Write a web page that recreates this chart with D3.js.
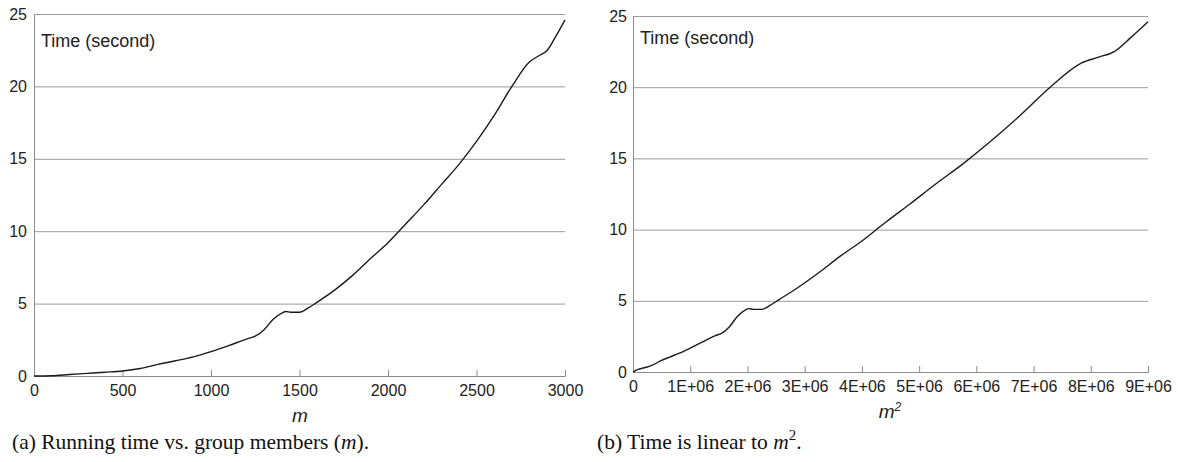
<!DOCTYPE html>
<html>
<head>
<meta charset="utf-8">
<script src="https://cdn.jsdelivr.net/npm/d3@7"></script>
<style>
  html, body { margin: 0; padding: 0; background: #fff; }
  svg { display: block; }
  .axis text { font: 16px "Liberation Sans", Arial, sans-serif; fill: #222; }
  .axis path, .axis line { stroke: #8c8c8c; }
  .grid line { stroke: #9a9a9a; }
  .grid path { display: none; }
  .title { font: 18px "Liberation Sans", Arial, sans-serif; fill: #222; }
  .xlabel { font: italic 19px "Liberation Sans", Arial, sans-serif; fill: #222; }
  .caption { font: 21.5px "Liberation Serif", "Times New Roman", serif; fill: #111; }
  .curve { fill: none; stroke: #1c1c1c; stroke-width: 1.4; }
</style>
</head>
<body>
<svg id="chart" width="1178" height="462"></svg>
<script>
const members = [0, 100, 200, 300, 400, 500, 600, 700, 800, 900, 1000, 1100, 1200, 1250,
  1300, 1350, 1400, 1425, 1450, 1500, 1550, 1600, 1700, 1800, 1900, 2000, 2100, 2200,
  2300, 2400, 2500, 2600, 2700, 2800, 2850, 2900, 2950, 3000]
const timeSec = [0, 0.02, 0.1, 0.18, 0.26, 0.35, 0.52, 0.8, 1.05, 1.32, 1.68, 2.1, 2.55, 2.75,
  3.2, 3.9, 4.35, 4.45, 4.4, 4.4, 4.7, 5.1, 5.95, 6.95, 8.1, 9.2, 10.5, 11.8,
  13.2, 14.6, 16.2, 18.0, 20.0, 21.7, 22.1, 22.5, 23.5, 24.6]

const yTicks = [0, 5, 10, 15, 20, 25]
const xTicksA = [0, 500, 1000, 1500, 2000, 2500, 3000]
const xTicksB = [0, 1e6, 2e6, 3e6, 4e6, 5e6, 6e6, 7e6, 8e6, 9e6]

const svg = d3.select('#chart')

function panel(opts) {
  const x = d3.scaleLinear().domain(opts.xDomain).range([opts.left, opts.right])
  const y = d3.scaleLinear().domain([0, 25]).range([opts.bottom, opts.top])
  const g = svg.append('g')

  g.append('g')
    .attr('class', 'grid')
    .attr('transform', `translate(${opts.left},0)`)
    .call(d3.axisLeft(y).tickValues(yTicks.slice(1)).tickSize(-(opts.right - opts.left)).tickFormat(''))

  g.append('g')
    .attr('class', 'axis')
    .attr('transform', `translate(${opts.left},0)`)
    .call(d3.axisLeft(y).tickValues(yTicks).tickSize(0).tickPadding(opts.yPad))

  g.append('g')
    .attr('class', 'axis')
    .attr('transform', `translate(0,${opts.bottom})`)
    .call(d3.axisBottom(x).tickValues(opts.xTicks).tickSize(-6).tickSizeOuter(-6).tickPadding(9)
      .tickFormat(opts.xFormat))

  const line = d3.line()
    .x((d, i) => x(opts.xVal(i)))
    .y((d) => y(d))
    .curve(d3.curveMonotoneX)

  g.append('path').attr('class', 'curve').datum(timeSec).attr('d', line)

  g.append('text').attr('class', 'title')
    .attr('x', opts.left + 7).attr('y', opts.titleY)
    .text('Time (second)')

  return { g, x, y }
}

const a = panel({
  left: 34, right: 565, top: 14, bottom: 376, yPad: 7, titleY: 47,
  xDomain: [0, 3000], xTicks: xTicksA, xFormat: d3.format('d'),
  xVal: (i) => members[i]
})
a.g.append('text').attr('class', 'xlabel')
  .attr('x', 300).attr('y', 422).attr('text-anchor', 'middle').text('m')

const b = panel({
  left: 633, right: 1148, top: 16, bottom: 372, yPad: 6, titleY: 43.5,
  xDomain: [0, 9e6], xTicks: xTicksB,
  xFormat: (d) => (d === 0 ? '0' : `${d / 1e6}E+06`),
  xVal: (i) => members[i] * members[i]
})
const mb = b.g.append('text').attr('class', 'xlabel')
  .attr('x', 890).attr('y', 418).attr('text-anchor', 'middle')
mb.append('tspan').text('m')
mb.append('tspan').attr('font-size', 12).attr('dy', -7).text('2')

const capA = svg.append('text').attr('class', 'caption').attr('x', 12).attr('y', 449)
capA.append('tspan').text('(a) Running time vs. group members (')
capA.append('tspan').attr('font-style', 'italic').text('m')
capA.append('tspan').text(').')

const capB = svg.append('text').attr('class', 'caption').attr('x', 597).attr('y', 449)
capB.append('tspan').text('(b) Time is linear to ')
capB.append('tspan').attr('font-style', 'italic').text('m')
capB.append('tspan').attr('font-size', 15).attr('dy', -9).text('2')
capB.append('tspan').attr('dy', 9).text('.')
</script>
</body>
</html>
